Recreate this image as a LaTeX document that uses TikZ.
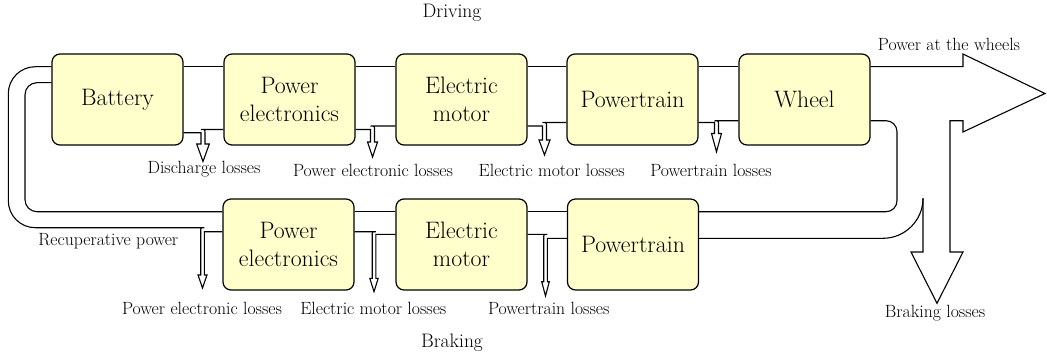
\documentclass[tikz,border=0pt]{standalone}
\usepackage{fontspec}
\definecolor{boxfill}{RGB}{255,255,204}
\newcommand{\bxfont}{\fontsize{23.8}{28}\selectfont}
\newcommand{\lbfont}{\fontsize{17.7}{20}\selectfont}
\newcommand{\ttlfont}{\fontsize{19.5}{22}\selectfont}
% top-row loss: #1 upstream anchor, #2 downstream anchor, #3 lower y, #4 upper y, #5 centre x, #6 head half width, #7 head base y, #8 tip y
\newcommand{\toploss}[8]{%
  \draw[flow] (#1) -- ({#5-2},#3) -- ({#5-2},#7) -- ({#5-#6},#7) -- (#5,#8) -- ({#5+#6},#7) -- ({#5+2},#7) -- ({#5+2},{#4+4}) .. controls ({#5+2},#4) .. ({#5-2},#4) -- (#2);}
% bottom-row loss: #1 left anchor (upper line), #2 right anchor (lower line), #3 upper y, #4 lower y, #5 centre x, #6 head half width, #7 head base y, #8 tip y
\newcommand{\botloss}[8]{%
  \draw[flow] (#1) -- ({#5+1.8},#3) .. controls ({#5-1.8},#3) .. ({#5-1.8},{#3+3.6}) -- ({#5-1.8},#7) -- ({#5-#6},#7) -- (#5,#8) -- ({#5+#6},#7) -- ({#5+1.8},#7) -- ({#5+1.8},#4) -- (#2);}
\begin{document}
\begin{tikzpicture}[x=1pt,y=-1pt,
  box/.style={draw=black, line width=1.2pt, fill=boxfill, rounded corners=8pt,
    minimum width=131pt, minimum height=91pt, inner sep=0pt, align=center, font=\bxfont},
  flow/.style={line width=1.1pt, line join=miter},
  lbl/.style={font=\lbfont, inner sep=0pt, anchor=base},
  ttl/.style={font=\ttlfont, inner sep=0pt, anchor=base}]
\useasboundingbox (0,0) rectangle (1047,361);
% level coordinates
\coordinate (ytop) at (0,66.7);
\coordinate (ybat) at (0,132.7);
\coordinate (ype1) at (0,129.5);
\coordinate (yem1) at (0,126);
\coordinate (ypt1) at (0,122.5);
\coordinate (ywh) at (0,120.7);
\coordinate (yrin) at (0,82.7);
\coordinate (yb2top) at (0,211.7);
\coordinate (ype2) at (0,231.7);
\coordinate (yem2) at (0,234.3);
\coordinate (ypt2) at (0,238.3);
\coordinate (loopend) at (150,227.7);
% boxes
\node[box] (bat) at (117.5,99.5) {Battery};
\node[box] (pe1) at (289.5,99.5) {Power\\electronics};
\node[box] (em1) at (461.5,99.5) {Electric\\motor};
\node[box] (pt1) at (632.5,99.5) {Powertrain};
\node[box] (wh) at (804.5,99.5) {Wheel};
\node[box] (pe2) at (288.5,244.5) {Power\\electronics};
\node[box] (em2) at (461.5,244.5) {Electric\\motor};
\node[box] (pt2) at (633,244.5) {Powertrain};
% top band, upper edge
\draw[flow] (bat.east |- ytop) -- (pe1.west |- ytop);
\draw[flow] (pe1.east |- ytop) -- (em1.west |- ytop);
\draw[flow] (em1.east |- ytop) -- (pt1.west |- ytop);
\draw[flow] (pt1.east |- ytop) -- (wh.west |- ytop);
% top losses
\toploss{bat.east |- ybat}{pe1.west |- ype1}{132.7}{129.5}{203}{6.3}{144}{161.5}
\toploss{pe1.east |- ype1}{em1.west |- yem1}{129.5}{126}{372.5}{5}{142}{157}
\toploss{em1.east |- yem1}{pt1.west |- ypt1}{126}{122.5}{544.5}{5.5}{140}{155}
\toploss{pt1.east |- ypt1}{wh.west |- ywh}{122.5}{120.7}{716.5}{5}{133.5}{151.7}
% power at the wheels and braking losses
\draw[flow] (923,198.3) -- (923,252) -- (911,252) -- (937,303.3) -- (963,252) -- (950,252)
  -- (950,120.7) -- (963,120.7) -- (963,132) -- (1045,93.5) -- (963,54) -- (963,66.7) -- (wh.east |- ytop);
% return loop, right side
\draw[flow, rounded corners=11pt] (wh.east |- ywh) -- (897,120.7) -- (897,211.7) -- (pt2.east |- yb2top);
\draw[flow] (pt2.east |- ypt2) -- (883,238.3) .. controls (905,238.3) and (923,220.4) .. (923,198.3);
% bottom band, upper edge
\draw[flow] (pe2.east |- yb2top) -- (em2.west |- yb2top);
\draw[flow] (em2.east |- yb2top) -- (pt2.west |- yb2top);
% bottom losses
\botloss{em2.east |- yem2}{pt2.west |- ypt2}{234.3}{238.3}{545.5}{3.8}{281.7}{296}
\botloss{pe2.east |- ype2}{em2.west |- yem2}{231.7}{234.3}{374}{4.2}{278.3}{291.7}
% return loop, left side
\draw[flow, rounded corners=27pt] (bat.west |- ytop) -- (8.3,66.7) -- (8.3,227.7) -- (loopend);
\botloss{loopend}{pe2.west |- ype2}{227.7}{231.7}{202.5}{4.5}{275}{288}
\draw[flow, rounded corners=12pt] (bat.west |- yrin) -- (25,82.7) -- (25,211.7) -- (pe2.west |- yb2top);
% labels
\node[lbl] (lDis) at (204,173) {Discharge losses};
\node[lbl] (lPE1) at (373,176) {Power electronic losses};
\node[lbl] (lEM1) at (551.7,176) {Electric motor losses};
\node[lbl] (lPT1) at (711,176) {Powertrain losses};
\node[lbl] (lPW) at (949,50.7) {Power at the wheels};
\node[lbl] (lBL) at (935,317.3) {Braking losses};
\node[lbl] (lRec) at (108.3,245.7) {Recuperative power};
\node[lbl] (lPE2) at (202,314) {Power electronic losses};
\node[lbl] (lEM2) at (373.3,314) {Electric motor losses};
\node[lbl] (lPT2) at (548.7,314) {Powertrain losses};
\node[ttl] (drv) at (452,18) {Driving};
\node[ttl] (brk) at (452,347.3) {Braking};
\end{tikzpicture}
\end{document}
